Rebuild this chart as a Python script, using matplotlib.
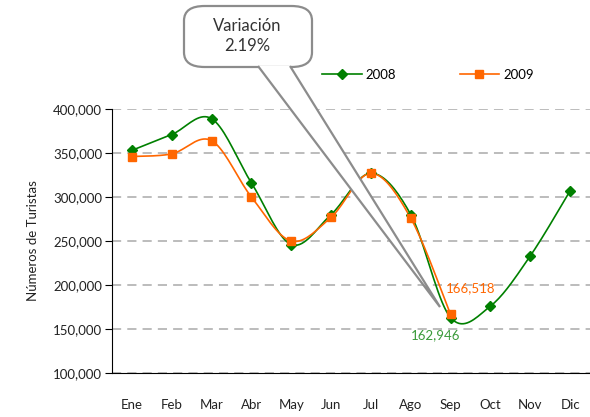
import numpy as np
import matplotlib
matplotlib.use('Agg')
import matplotlib.pyplot as plt
from matplotlib.patches import FancyBboxPatch, Polygon
from matplotlib.lines import Line2D
from matplotlib.ticker import FuncFormatter

months = ['Ene', 'Feb', 'Mar', 'Abr', 'May', 'Jun', 'Jul', 'Ago', 'Sep', 'Oct', 'Nov', 'Dic']
turistas_2008 = [353000, 371000, 389000, 316000, 246000, 280000, 327000, 280000, 162946, 176000, 233000, 307000]
turistas_2009 = [346000, 349000, 364000, 300000, 250000, 277000, 327000, 276000, 166518]

GREEN = '#008000'
ORANGE = '#FF6600'
FONT = 'Lato'


def smooth(x, y, n=20):
    # Catmull-Rom style smoothing like the spreadsheet "smoothed line"
    x = np.asarray(x, float)
    y = np.asarray(y, float)
    px = np.concatenate([[x[0]], x, [x[-1]]])
    py = np.concatenate([[y[0]], y, [y[-1]]])
    xs, ys = [], []
    for i in range(1, len(px) - 2):
        p0 = np.array([px[i - 1], py[i - 1]])
        p1 = np.array([px[i], py[i]])
        p2 = np.array([px[i + 1], py[i + 1]])
        p3 = np.array([px[i + 2], py[i + 2]])
        c1 = p1 + (p2 - p0) / 6
        c2 = p2 - (p3 - p1) / 6
        t = np.linspace(0, 1, n)[:, None]
        pts = (1 - t) ** 3 * p1 + 3 * (1 - t) ** 2 * t * c1 + 3 * (1 - t) * t ** 2 * c2 + t ** 3 * p2
        xs.extend(pts[:, 0])
        ys.extend(pts[:, 1])
    return xs, ys


fig = plt.figure(figsize=(5.9, 4.17), dpi=100)
ax = fig.add_axes([112 / 590, 44 / 417, 478 / 590, 264 / 417])

x08 = np.arange(len(turistas_2008))
x09 = np.arange(len(turistas_2009))

sx, sy = smooth(x08, turistas_2008)
ax.plot(sx, sy, color=GREEN, lw=1.2, zorder=3)
ax.plot(x08, turistas_2008, ls='none', marker='D', ms=5, color=GREEN, zorder=4)
sx, sy = smooth(x09, turistas_2009)
ax.plot(sx, sy, color=ORANGE, lw=1.2, zorder=3)
ax.plot(x09, turistas_2009, ls='none', marker='s', ms=6, color=ORANGE, zorder=4)

ax.set_xlim(-0.5, 11.5)
ax.set_ylim(100000, 400000)
ax.set_yticks(np.arange(100000, 400001, 50000))
ax.yaxis.set_major_formatter(FuncFormatter(lambda v, p: f'{int(v):,}'))
ax.set_xticks(x08)
ax.set_xticklabels(months)
ax.tick_params(axis='x', length=0, pad=19, labelsize=9.5, labelcolor='#222222')
ax.tick_params(axis='y', length=5, width=0.8, labelsize=9.5, labelcolor='#222222', pad=2)
for lab in ax.get_xticklabels() + ax.get_yticklabels():
    lab.set_family(FONT)

ax.grid(axis='y', color='#aaaaaa', ls=(0, (6, 4)), lw=1.1)
for s in ['top', 'right']:
    ax.spines[s].set_visible(False)
ax.spines['left'].set_color('black')
ax.spines['bottom'].set_color('black')
ax.set_ylabel('Números de Turistas', fontsize=9.5, family=FONT, labelpad=10, color='#222222')

ax.text(7.88, 196500, f'{turistas_2009[8]:,}', color=ORANGE,
        fontsize=9.5, family=FONT, va='center', ha='left')
ax.text(7.62, 143500, f'{turistas_2008[8]:,}', color='#3a9a3a',
        fontsize=9.5, family=FONT, va='center', ha='center')

# legend
leg_handles = [Line2D([0], [0], color=GREEN, marker='D', ms=5, lw=1.2),
               Line2D([0], [0], color=ORANGE, marker='s', ms=6, lw=1.2)]
fig.legend(leg_handles, ['2008', '2009'], loc='center', bbox_to_anchor=(428 / 590, 1 - 75 / 417),
           ncol=2, frameon=False, prop={'family': FONT, 'size': 9.5}, columnspacing=4.8,
           handlelength=3, handletextpad=0.3)

# callout bubble (figure pixels, origin top-left)
W, H = 590, 417


def fp(x, y):
    return (x / W, 1 - y / H)


box = FancyBboxPatch(fp(184, 67), 128 / W, 61 / H,
                     boxstyle='round,pad=0,rounding_size=0.035', transform=fig.transFigure,
                     facecolor='white', edgecolor='#8c8c8c', lw=1.6, zorder=5)
fig.add_artist(box)
wedge = Polygon([fp(258, 66), fp(440, 307), fp(290, 66)], closed=False,
                transform=fig.transFigure, facecolor='white', edgecolor='#8c8c8c', lw=1.6, zorder=6)
fig.add_artist(wedge)
fig.text(*fp(247, 36), 'Variación\n2.19%', ha='center', va='center', fontsize=12,
         family=FONT, color='#333333', linespacing=1.25, zorder=7)

fig.savefig('out.png', dpi=100)
